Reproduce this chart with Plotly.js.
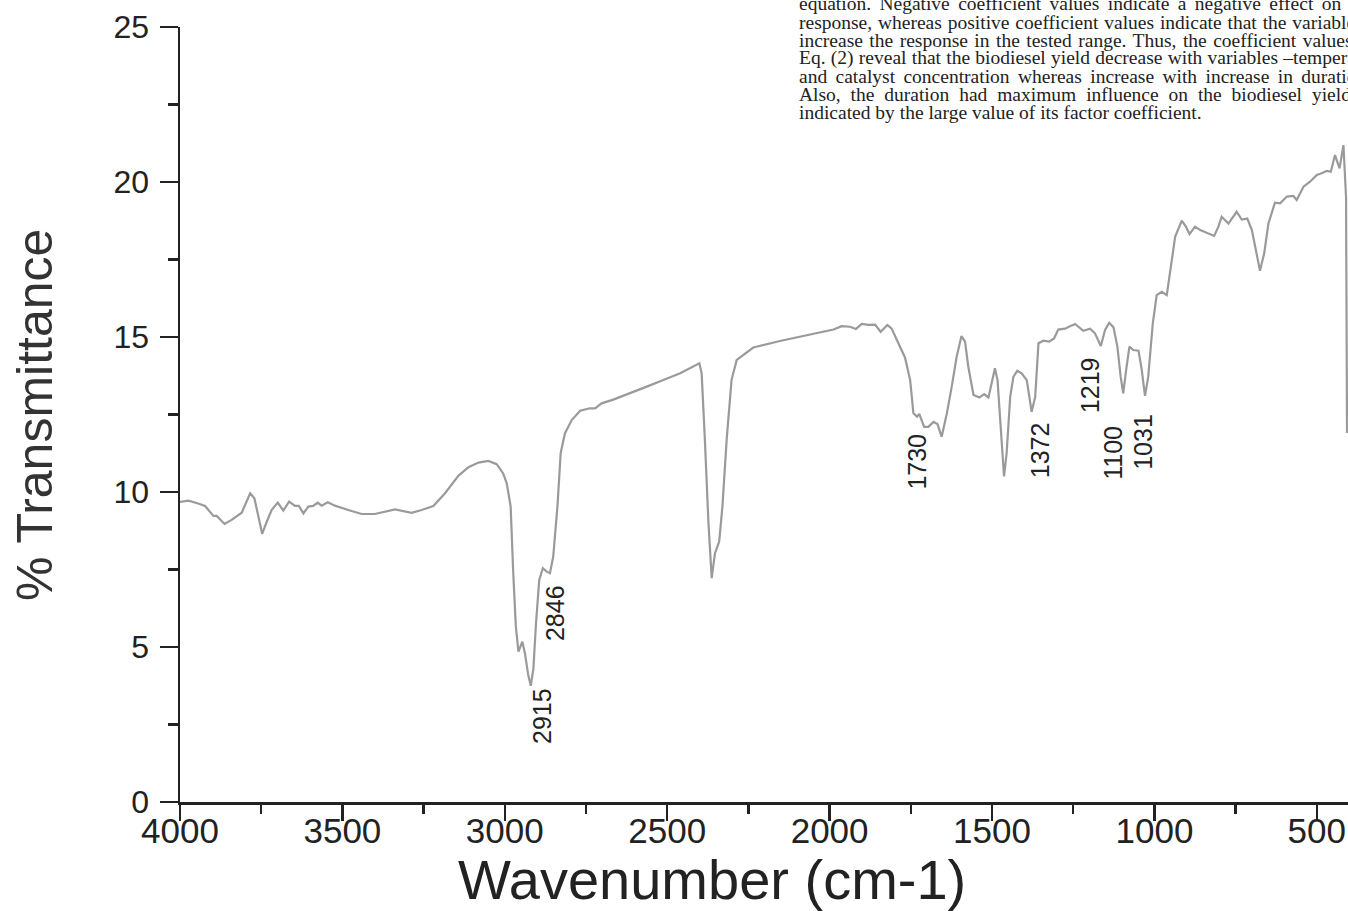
<!DOCTYPE html>
<html>
<head>
<meta charset="utf-8">
<script src="https://cdn.plot.ly/plotly-3.0.1.min.js"></script>
<style>
html,body{margin:0;padding:0;overflow:hidden;background:#fff;}
#chart{width:1348px;height:911px;}
</style>
</head>
<body>
<div id="chart"></div>
<script>
// Wavenumber (cm-1), decreasing
const wavenumber = [4000,3974,3944,3923,3897,3887,3863,3841,3810,3800,3784,3771,3757,3747,3733,3718,3699,3682,3664,3646,3634,3620,3605,3590,3576,3564,3545,3523,3482,3441,3400,3369,3338,3287,3256,3220,3184,3143,3112,3081,3051,3025,3005,2994,2982,2974,2966,2958,2946,2938,2928,2920,2912,2904,2894,2883,2871,2861,2851,2838,2828,2815,2794,2768,2738,2722,2702,2666,2614,2563,2512,2460,2401,2394,2384,2373,2363,2353,2340,2330,2317,2302,2286,2266,2235,2153,2090,2029,1988,1963,1937,1919,1901,1881,1860,1843,1822,1809,1793,1768,1752,1742,1731,1724,1709,1696,1680,1668,1655,1639,1624,1609,1594,1583,1573,1557,1539,1524,1511,1498,1491,1483,1473,1463,1455,1444,1434,1422,1409,1393,1378,1367,1357,1342,1324,1309,1296,1275,1260,1244,1219,1198,1183,1165,1152,1139,1126,1114,1104,1096,1087,1077,1065,1049,1039,1029,1019,1005,993,977,962,950,936,916,903,892,875,859,839,816,803,793,772,747,731,714,700,685,675,662,649,629,613,592,572,562,541,521,500,485,469,457,444,430,418,410,407];
// % Transmittance
const transmittance = [9.68,9.72,9.63,9.55,9.23,9.23,8.97,9.10,9.33,9.58,9.96,9.80,9.10,8.65,9.04,9.42,9.66,9.40,9.69,9.55,9.55,9.31,9.53,9.55,9.66,9.56,9.67,9.56,9.42,9.29,9.29,9.36,9.44,9.33,9.42,9.55,9.96,10.52,10.80,10.95,11.00,10.90,10.60,10.28,9.53,7.38,5.66,4.85,5.17,4.80,4.10,3.75,4.30,5.76,7.16,7.54,7.43,7.38,7.91,9.53,11.25,11.89,12.32,12.62,12.70,12.70,12.86,12.98,13.18,13.40,13.61,13.83,14.15,13.83,11.68,8.99,7.22,8.02,8.40,9.53,11.68,13.61,14.26,14.42,14.66,14.87,15.01,15.17,15.24,15.35,15.33,15.26,15.42,15.39,15.40,15.17,15.39,15.27,14.90,14.34,13.61,12.54,12.43,12.52,12.10,12.10,12.26,12.19,11.78,12.54,13.40,14.36,15.03,14.85,14.04,13.13,13.05,13.16,13.05,13.72,13.99,13.61,12.00,10.50,11.25,13.07,13.72,13.91,13.83,13.61,12.59,13.07,14.80,14.88,14.85,14.95,15.24,15.27,15.35,15.42,15.20,15.27,15.12,14.71,15.23,15.46,15.31,14.69,13.72,13.18,13.94,14.69,14.58,14.56,13.94,13.10,13.72,15.44,16.35,16.46,16.35,17.16,18.24,18.75,18.56,18.32,18.56,18.45,18.36,18.26,18.56,18.88,18.66,19.04,18.79,18.82,18.45,17.59,17.14,17.70,18.66,19.33,19.31,19.53,19.55,19.42,19.85,20.01,20.23,20.28,20.36,20.33,20.87,20.44,21.19,19.50,11.90];

// Peak labels
const peakLabels = ["2915","2846","1730","1372","1219","1100","1031"];
const peakLabelX = [2886,2845,1732,1352,1198,1128,1035];
const peakLabelY = [2.77,6.10,10.97,11.35,13.45,11.26,11.62];

const xTickVals = [4000,3500,3000,2500,2000,1500,1000,500];
const yTickVals = [0,5,10,15,20,25];

const paragraph = [
  "equation. Negative coefficient values indicate a negative effect on",
  "response, whereas positive coefficient values indicate that the variables",
  "increase the response in the tested range. Thus, the coefficient values in",
  "Eq. (2) reveal that the biodiesel yield decrease with variables \u2013temperature",
  "and catalyst concentration whereas increase with increase in duration.",
  "Also, the duration had maximum influence on the biodiesel yield as",
  "indicated by the large value of its factor coefficient."
];
const paragraphWordSpacing = [3.5, 1.0, 1.6, 0.4, 3.5, 5.0, 0];

const W = 1348, H = 911;
const L = 180, R = 0, T = 27, B = 109;
const pw = W - L - R, ph = H - T - B;
const px = v => (v - L) / pw;
const py = v => (H - B - v) / ph;

const annotations = [];
peakLabels.forEach((t, i) => {
  annotations.push({
    text: t, x: peakLabelX[i], y: peakLabelY[i], xref: 'x', yref: 'y',
    xanchor: 'center', yanchor: 'middle',
    showarrow: false, textangle: -90,
    font: {family: 'Liberation Sans, Arial, sans-serif', size: 25, color: '#222'}
  });
});
annotations.push({
  text: '% Transmittance', xref: 'paper', yref: 'paper', x: px(35), y: py(415),
  xanchor: 'center', yanchor: 'middle',
  showarrow: false, textangle: -90,
  font: {family: 'Liberation Sans, Arial, sans-serif', size: 50, color: '#333'}
});
annotations.push({
  text: 'Wavenumber (cm-1)', xref: 'paper', yref: 'paper', x: px(712), y: py(879),
  xanchor: 'center', yanchor: 'middle',
  showarrow: false,
  font: {family: 'Liberation Sans, Arial, sans-serif', size: 56, color: '#222'}
});
paragraph.forEach((t, i) => {
  annotations.push({
    text: t, xref: 'paper', yref: 'paper', x: px(797), y: py(4 + i * 18.1),
    xanchor: 'left', yanchor: 'middle', showarrow: false, align: 'left',
    font: {family: 'Liberation Serif, Times New Roman, serif', size: 19.5, color: '#222'}
  });
});

const data = [{
  x: wavenumber, y: transmittance, type: 'scatter', mode: 'lines',
  line: {color: '#9a9a9a', width: 2.2}, hoverinfo: 'skip'
}];

const layout = {
  width: W, height: H,
  margin: {l: L, r: R, t: T, b: B, pad: 0},
  paper_bgcolor: '#fff', plot_bgcolor: '#fff',
  showlegend: false,
  xaxis: {
    range: [4000, 404], tickvals: xTickVals, ticks: 'outside', ticklen: 16, tickwidth: 2.5,
    tickcolor: '#222', showline: true, linecolor: '#222', linewidth: 2.5,
    showgrid: false, zeroline: false, ticklabelstandoff: -20,
    minor: {dtick: 250, tick0: 0, ticks: 'outside', ticklen: 9, tickwidth: 2.5, tickcolor: '#222', showgrid: false},
    tickfont: {family: 'Liberation Sans, Arial, sans-serif', size: 35, color: '#222'}
  },
  yaxis: {
    range: [0, 25], tickvals: yTickVals, ticks: 'outside', ticklen: 18, tickwidth: 2.5,
    tickcolor: '#222', showline: true, linecolor: '#222', linewidth: 2.5,
    showgrid: false, zeroline: false, ticklabelstandoff: 4,
    minor: {dtick: 2.5, tick0: 0, ticks: 'outside', ticklen: 10, tickwidth: 2.5, tickcolor: '#222', showgrid: false},
    tickfont: {family: 'Liberation Sans, Arial, sans-serif', size: 32, color: '#222'}
  },
  annotations: annotations
};

Plotly.newPlot('chart', data, layout, {displayModeBar: false, staticPlot: true}).then(gd => {
  const nPeak = peakLabels.length + 2;
  const texts = gd.querySelectorAll('.annotation');
  paragraph.forEach((t, i) => {
    const el = texts[nPeak + i];
    if (el) {
      const tx = el.querySelector('text');
      if (tx) tx.style.wordSpacing = paragraphWordSpacing[i] + 'px';
    }
  });
});
</script>
</body>
</html>
